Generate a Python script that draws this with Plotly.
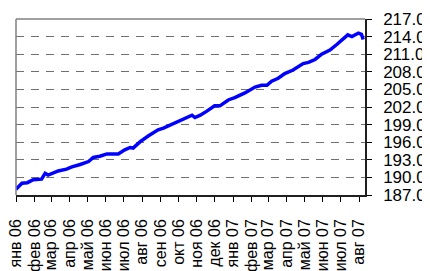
import plotly.graph_objects as go

dates = ["2006-01-01", "2006-01-11", "2006-01-20", "2006-01-30", "2006-02-13", "2006-02-19",
         "2006-02-24", "2006-03-13", "2006-03-27", "2006-04-05", "2006-04-19", "2006-05-03",
         "2006-05-11", "2006-05-22", "2006-06-03", "2006-06-17", "2006-06-22", "2006-07-03",
         "2006-07-12", "2006-07-17", "2006-07-29", "2006-08-12", "2006-08-28", "2006-09-06",
         "2006-09-17", "2006-09-28", "2006-10-15", "2006-10-24", "2006-10-29", "2006-11-07",
         "2006-11-18", "2006-12-01", "2006-12-10", "2006-12-24", "2007-01-04", "2007-01-21",
         "2007-02-07", "2007-02-18", "2007-02-27", "2007-03-07", "2007-03-18", "2007-03-29",
         "2007-04-12", "2007-04-21", "2007-04-29", "2007-05-08", "2007-05-19", "2007-05-30",
         "2007-06-13", "2007-06-25", "2007-07-06", "2007-07-13", "2007-07-20", "2007-07-25",
         "2007-07-31", "2007-08-05", "2007-08-08"]
values = [188.0, 189.0, 189.1, 189.6, 189.7, 190.7,
          190.4, 191.1, 191.4, 191.8, 192.2, 192.7,
          193.4, 193.6, 194.0, 194.1, 194.0, 194.7,
          195.1, 195.0, 196.1, 197.1, 198.1, 198.4,
          198.9, 199.5, 200.2, 200.6, 200.2, 200.6,
          201.3, 202.2, 202.2, 203.2, 203.6, 204.4,
          205.4, 205.7, 205.7, 206.4, 206.9, 207.7,
          208.3, 208.9, 209.4, 209.6, 210.1, 211.0,
          211.7, 212.7, 213.7, 214.3, 214.0, 214.3,
          214.6, 214.4, 213.5]

tick_dates = ["2006-01-01", "2006-02-01", "2006-03-01", "2006-04-01", "2006-05-01", "2006-06-01",
              "2006-07-01", "2006-08-01", "2006-09-01", "2006-10-01", "2006-11-01", "2006-12-01",
              "2007-01-01", "2007-02-01", "2007-03-01", "2007-04-01", "2007-05-01", "2007-06-01",
              "2007-07-01", "2007-08-01"]
tick_labels = ["янв 06", "фев 06", "мар 06", "апр 06", "май 06", "июн 06", "июл 06", "авг 06",
               "сен 06", "окт 06", "ноя 06", "дек 06", "янв 07", "фев 07", "мар 07", "апр 07",
               "май 07", "июн 07", "июл 07", "авг 07"]
y_ticks = [187.0, 190.0, 193.0, 196.0, 199.0, 202.0, 205.0, 208.0, 211.0, 214.0, 217.0]

font_family = "Liberation Sans"

fig = go.Figure()
fig.add_trace(go.Scatter(x=dates, y=values, mode="lines",
                         line=dict(color="#0000ff", width=3.5), hoverinfo="skip"))

# page body has an 8px default margin: figure is sized to end at the window edge
fig.update_layout(
    template="none",
    width=422, height=263, autosize=False,
    margin=dict(l=8, r=65, t=11, b=76, pad=0, autoexpand=False),
    paper_bgcolor="white", plot_bgcolor="white",
    showlegend=False,
    font=dict(family=font_family, size=16, color="black"),
    xaxis=dict(
        type="date", range=["2006-01-01", "2007-08-11"], automargin=False,
        tickmode="array", tickvals=tick_dates, ticktext=tick_labels,
        tickangle=-90, ticks="outside", ticklen=5, tickcolor="black", tickwidth=1,
        showgrid=False, showline=True, linecolor="#202020", linewidth=1.5,
        zeroline=False, ticklabelstandoff=11, ticklabeloverflow="allow",
        tickfont=dict(family=font_family, size=16, color="black"),
    ),
    yaxis=dict(
        side="right", range=[187, 217], automargin=False,
        tickmode="array", tickvals=y_ticks, tickformat=".1f",
        ticks="outside", ticklen=5, tickcolor="black", tickwidth=1,
        showgrid=True, gridcolor="#707070", gridwidth=1, griddash="8px,7px",
        showline=True, linecolor="#202020", linewidth=1.5,
        zeroline=False, ticklabelstandoff=8, ticklabeloverflow="allow",
        tickfont=dict(family=font_family, size=17, color="black"),
    ),
    shapes=[
        dict(type="line", xref="paper", yref="paper", x0=0, x1=0, y0=0, y1=1,
             line=dict(color="#808080", width=1.5), layer="above"),
        dict(type="line", xref="paper", yref="paper", x0=0, x1=1, y0=1, y1=1,
             line=dict(color="#808080", width=1.5), layer="above"),
    ],
)

fig.write_html("out.html")
